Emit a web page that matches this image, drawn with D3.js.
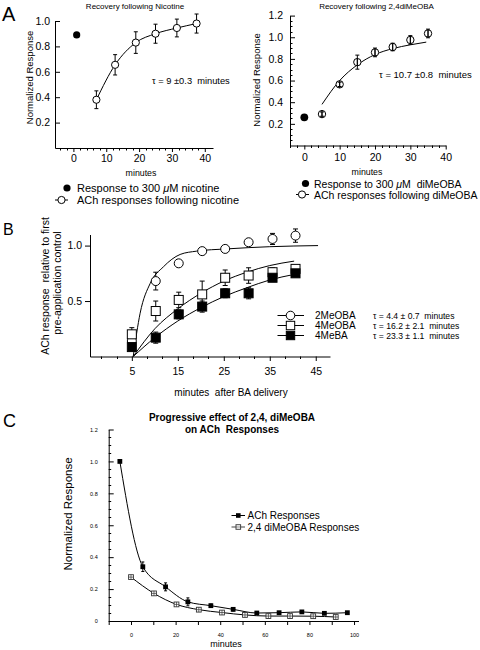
<!DOCTYPE html>
<html><head><meta charset="utf-8">
<script src="https://cdn.jsdelivr.net/npm/d3@7"></script>
<style>
body{margin:0;background:#fff}
svg{display:block;font-family:"Liberation Sans",Arial,Helvetica,sans-serif}
text{white-space:pre}
</style>
</head><body>
<svg id="c" width="480" height="650"></svg>
<script>
// ---------- Panel A (left): recovery following nicotine ----------
const nicTimes  = [7, 12.7, 19, 25, 31.5, 37.5];
const nicValues = [0.38, 0.655, 0.83, 0.90, 0.945, 0.98];
const nicErrors = [0.07, 0.08, 0.085, 0.075, 0.07, 0.075];
const nicPulseTimes  = [1];
const nicPulseValues = [0.89];
const a1YTicks = [0.2, 0.4, 0.6, 0.8, 1.0];
const a1XTicks = [0, 10, 20, 30, 40];

// ---------- Panel A (right): recovery following 2,4diMeOBA ----------
const dmTimes  = [5, 10, 15, 20, 25, 30, 35];
const dmValues = [0.29, 0.565, 0.77, 0.86, 0.91, 0.975, 1.035];
const dmErrors = [0.02, 0.02, 0.065, 0.04, 0.035, 0.04, 0.04];
const dmPulseTimes  = [0];
const dmPulseValues = [0.26];
const dmFitTimes  = [5, 10, 15, 20, 25, 30, 34.5];
const dmFitValues = [0.38, 0.60, 0.745, 0.84, 0.895, 0.93, 0.955];
const a2YTicks = [0.2, 0.4, 0.6, 0.8, 1.0, 1.2];
const a2XTicks = [0, 10, 20, 30, 40];

// ---------- Panel B ----------
const bTimes = [5, 10.2, 15.2, 20.3, 25.3, 30.4, 35.6, 40.6];
const b2MeOBAValues = [0.14, 0.68, 0.84, 0.95, 0.97, 1.03, 1.06, 1.09];
const b2MeOBAErrors = [0.03, 0.08, 0.02, 0.01, 0.01, 0.01, 0.05, 0.06];
const b4MeOBAValues = [0.20, 0.41, 0.51, 0.56, 0.71, 0.73, 0.76, 0.79];
const b4MeOBAErrors = [0.06, 0.09, 0.07, 0.12, 0.07, 0.07, 0.04, 0.03];
const b4MeBAValues  = [0.085, 0.17, 0.38, 0.45, 0.57, 0.57, 0.71, 0.75];
const b4MeBAErrors  = [0.03, 0.05, 0.04, 0.05, 0.04, 0.05, 0.03, 0.03];
const bFit2Times  = [5.3, 6.8, 9, 11.9, 15.5, 19.1, 25.6, 35, 45.5];
const bFit2Values = [0, 0.39, 0.66, 0.81, 0.92, 0.95, 0.97, 0.99, 1.0];
const bFitTimes   = [5.3, 10, 15, 20, 25, 30, 35, 40.3];
const bFit4MeOBAValues = [0, 0.25, 0.43, 0.57, 0.68, 0.76, 0.82, 0.86];
const bFit4MeBAValues  = [0, 0.17, 0.32, 0.44, 0.54, 0.62, 0.69, 0.74];
const bSeriesNames = ["2MeOBA", "4MeOBA", "4MeBA"];
const bTauLabels = ["τ = 4.4 ± 0.7  minutes", "τ = 16.2 ± 2.1  minutes", "τ = 23.3 ± 1.1  minutes"];
const bYTicks = [0.5, 1.0];
const bXTicks = [5, 15, 25, 35, 45];

// ---------- Panel C ----------
const cAchTimes  = [-5, 5.3, 15.5, 25.5, 35.8, 45.8, 56.4, 66.4, 76.6, 86.7, 97];
const cAchValues = [1.0, 0.34, 0.214, 0.12, 0.096, 0.073, 0.05, 0.052, 0.057, 0.048, 0.052];
const cAchErrors = [0, 0.03, 0.025, 0.025, 0.01, 0.01, 0.006, 0.006, 0.006, 0.006, 0.006];
const cDmTimes  = [0, 10.3, 20.4, 30.4, 40.8, 51.1, 61.6, 71.3, 81.7, 91.8];
const cDmValues = [0.275, 0.173, 0.104, 0.071, 0.053, 0.038, 0.031, 0.031, 0.03, 0.025];
const cSeriesNames = ["ACh Responses", "2,4 diMeOBA Responses"];
const cYTicks = [0, 0.2, 0.4, 0.6, 0.8, 1.0, 1.2];
const cXTicks = [-10, 0, 10, 20, 30, 40, 50, 60, 70, 80, 90, 100];
const cXLabels = [0, 20, 40, 60, 80, 100];

// =====================================================================
const svg = d3.select("#c");
const zip = (a, b) => a.map((v, i) => [v, b[i]]);

function styleAxis(g, size) {
  g.attr("font-family", null).attr("font-size", size);
  g.selectAll("path,line").attr("stroke", "#000").attr("stroke-width", 1);
  g.selectAll("text").attr("fill", "#000");
}
function minorTicks(g, scale, values, orient, pos, len) {
  g.selectAll(null).data(values).join("line")
    .attr("stroke", "#000").attr("stroke-width", 1)
    .each(function (d) {
      const s = d3.select(this), p = Math.round(scale(d)) + 0.5;
      if (orient === "x") s.attr("x1", p).attr("x2", p).attr("y1", pos).attr("y2", pos + len);
      else s.attr("y1", p).attr("y2", p).attr("x1", pos).attr("x2", pos + len);
    });
}
function errorBars(g, xs, ys, es, x, y, cap) {
  g.selectAll(null).data(xs.map((t, i) => [t, ys[i], es[i]]).filter(d => d[2] > 0)).join("g")
    .each(function (d) {
      const s = d3.select(this), cx = x(d[0]);
      s.append("line").attr("x1", cx).attr("x2", cx).attr("y1", y(d[1] - d[2])).attr("y2", y(d[1] + d[2])).attr("stroke", "#000");
      [d[1] - d[2], d[1] + d[2]].forEach(v => s.append("line").attr("x1", cx - cap).attr("x2", cx + cap).attr("y1", y(v)).attr("y2", y(v)).attr("stroke", "#000"));
    });
}
function text(g, x, y, s, size, opts = {}) {
  const t = g.append("text").attr("x", x).attr("y", y).attr("font-size", size).attr("xml:space", "preserve").text(s).attr("fill", "#000");
  if (opts.anchor) t.attr("text-anchor", opts.anchor);
  if (opts.weight) t.attr("font-weight", opts.weight);
  return t;
}
function vtext(g, x, y, s, size) {
  return g.append("text").attr("transform", `translate(${x},${y}) rotate(-90)`)
    .attr("text-anchor", "middle").attr("font-size", size).attr("fill", "#000").text(s);
}

// ---------------- Panel A left ----------------
{
  const g = svg.append("g");
  const x = d3.scaleLinear().domain([-5.6, 42.5]).range([55, 213]);
  const y = d3.scaleLinear().domain([0, 1]).range([148, 21]);
  const ya = g.append("g").attr("transform", "translate(55,0)")
    .call(d3.axisLeft(y).tickValues(a1YTicks).tickSize(-5).tickSizeOuter(0).tickPadding(5).tickFormat(d3.format(".1f")));
  styleAxis(ya, 10.5);
  const xa = g.append("g").attr("transform", "translate(0,148)")
    .call(d3.axisBottom(x).tickValues(a1XTicks).tickSize(4).tickSizeOuter(0).tickPadding(3));
  styleAxis(xa, 10.5);
  minorTicks(g, x, d3.range(-4, 42, 2).filter(v => v % 10 !== 0), "x", 148, 2.5);

  errorBars(g, nicTimes, nicValues, nicErrors, x, y, 2);
  g.append("path").datum(zip(nicTimes, nicValues))
    .attr("d", d3.line().x(d => x(d[0])).y(d => y(d[1])).curve(d3.curveMonotoneX))
    .attr("fill", "none").attr("stroke", "#000");
  g.selectAll(null).data(zip(nicTimes, nicValues)).join("circle")
    .attr("cx", d => x(d[0])).attr("cy", d => y(d[1])).attr("r", 3.6)
    .attr("fill", "#fff").attr("stroke", "#000");
  g.selectAll(null).data(zip(nicPulseTimes, nicPulseValues)).join("circle")
    .attr("cx", d => x(d[0])).attr("cy", d => y(d[1])).attr("r", 3.6).attr("fill", "#000");

  text(g, 135, 8.5, "Recovery following Nicotine", 8, { anchor: "middle" });
  vtext(g, 32.5, 77.5, "Normalized Response", 9.5);
  text(g, 141, 176, "minutes", 8.8, { anchor: "middle" });
  text(g, 152, 83.5, "τ = 9 ±0.3  minutes", 9.3);
  // legend
  g.append("circle").attr("cx", 67).attr("cy", 188).attr("r", 3.6).attr("fill", "#000");
  text(g, 77, 192, "Response to 300 ", 11).append("tspan").attr("font-style", "italic").text("μ")
    .select(function () { return this.parentNode; }).append("tspan").text("M nicotine");
  g.append("line").attr("x1", 55).attr("x2", 68).attr("y1", 200).attr("y2", 200).attr("stroke", "#000");
  g.append("circle").attr("cx", 61.5).attr("cy", 200).attr("r", 3.6).attr("fill", "#fff").attr("stroke", "#000");
  text(g, 77, 204, "ACh responses following nicotine", 11);
}

// ---------------- Panel A right ----------------
{
  const g = svg.append("g");
  const x = d3.scaleLinear().domain([-4.05, 40]).range([290, 445.7]);
  const y = d3.scaleLinear().domain([0, 1.2]).range([145.5, 15.6]);
  const ya = g.append("g").attr("transform", "translate(290,0)")
    .call(d3.axisLeft(y).tickValues(a2YTicks).tickSize(-5).tickSizeOuter(0).tickPadding(7).tickFormat(d3.format(".1f")));
  styleAxis(ya, 10.5);
  minorTicks(g, y, d3.range(0.05, 1.2, 0.05).filter(v => Math.abs(v * 5 - Math.round(v * 5)) > 0.01), "y", 290, 2.5);
  const xa = g.append("g").attr("transform", "translate(0,145.5)")
    .call(d3.axisBottom(x).tickValues(a2XTicks).tickSize(4).tickSizeOuter(0).tickPadding(4));
  styleAxis(xa, 10.5);
  minorTicks(g, x, d3.range(-4, 40, 2).filter(v => v % 10 !== 0), "x", 145.5, 2.5);

  g.append("path").datum(zip(dmFitTimes, dmFitValues))
    .attr("d", d3.line().x(d => x(d[0])).y(d => y(d[1])).curve(d3.curveMonotoneX))
    .attr("fill", "none").attr("stroke", "#000");
  g.selectAll(null).data(zip(dmTimes, dmValues)).join("circle")
    .attr("cx", d => x(d[0])).attr("cy", d => y(d[1])).attr("r", 3.7)
    .attr("fill", "#fff").attr("stroke", "#000");
  errorBars(g, dmTimes, dmValues, dmErrors, x, y, 2);
  dmTimes.forEach((t, i) => g.append("line").attr("x1", x(t)).attr("x2", x(t))
    .attr("y1", y(dmValues[i]) - 3.7).attr("y2", y(dmValues[i]) + 3.7).attr("stroke", "#000"));
  g.selectAll(null).data(zip(dmPulseTimes, dmPulseValues)).join("circle")
    .attr("cx", d => x(d[0])).attr("cy", d => y(d[1])).attr("r", 3.9).attr("fill", "#000");

  text(g, 376.5, 8.5, "Recovery following 2,4diMeOBA", 8, { anchor: "middle" });
  vtext(g, 260, 80, "Normalized Response", 9.5);
  text(g, 367, 175, "minutes", 8.8, { anchor: "middle" });
  text(g, 379, 78, "τ = 10.7 ±0.8  minutes", 9.5);
  g.append("circle").attr("cx", 305.5).attr("cy", 183.5).attr("r", 3.6).attr("fill", "#000");
  text(g, 314, 188, "Response to 300 ", 10.5).append("tspan").attr("font-style", "italic").text("μ")
    .select(function () { return this.parentNode; }).append("tspan").text("M  diMeOBA");
  g.append("line").attr("x1", 296).attr("x2", 309).attr("y1", 194.5).attr("y2", 194.5).attr("stroke", "#000");
  g.append("circle").attr("cx", 302).attr("cy", 194.5).attr("r", 3.6).attr("fill", "#fff").attr("stroke", "#000");
  text(g, 314, 198.5, "ACh responses following diMeOBA", 10.5);
}

// ---------------- Panel B ----------------
{
  const g = svg.append("g");
  const x = d3.scaleLinear().domain([-4.1, 48.1]).range([90, 330]);
  const y = d3.scaleLinear().domain([0, 1.1]).range([356.5, 234.5]);
  const ya = g.append("g").attr("transform", "translate(90,0)")
    .call(d3.axisLeft(y).tickValues(bYTicks).tickSize(5).tickSizeOuter(0).tickPadding(3).tickFormat(d3.format(".1f")));
  styleAxis(ya, 10.5);
  const xa = g.append("g").attr("transform", "translate(0,356.5)")
    .call(d3.axisBottom(x).tickValues(bXTicks).tickSize(4.5).tickSizeOuter(0).tickPadding(7));
  styleAxis(xa, 10.5);
  const minor = d3.range(-5, 49, 10 / 3).filter(v => v > -4.1 && v < 48 && !bXTicks.some(t => Math.abs(t - v) < 0.1));
  minorTicks(g, x, minor, "x", 356.5, 2.5);

  const line = d3.line().x(d => x(d[0])).y(d => y(d[1])).curve(d3.curveMonotoneX);
  [bFit2Values].forEach(v => g.append("path").datum(zip(bFit2Times, v)).attr("d", line).attr("fill", "none").attr("stroke", "#000"));
  [bFit4MeOBAValues, bFit4MeBAValues].forEach(v => g.append("path").datum(zip(bFitTimes, v)).attr("d", line).attr("fill", "none").attr("stroke", "#000"));

  errorBars(g, bTimes, b4MeBAValues, b4MeBAErrors, x, y, 2.5);
  errorBars(g, bTimes, b4MeOBAValues, b4MeOBAErrors, x, y, 2.5);
  errorBars(g, bTimes, b2MeOBAValues, b2MeOBAErrors, x, y, 2.5);
  const s = 9;
  g.selectAll(null).data(zip(bTimes, b2MeOBAValues)).join("circle")
    .attr("cx", d => x(d[0])).attr("cy", d => y(d[1])).attr("r", 4.5).attr("fill", "#fff").attr("stroke", "#000");
  g.selectAll(null).data(zip(bTimes, b4MeOBAValues)).join("rect")
    .attr("x", d => x(d[0]) - s / 2).attr("y", d => y(d[1]) - s / 2).attr("width", s).attr("height", s)
    .attr("fill", "#fff").attr("stroke", "#000");
  g.selectAll(null).data(zip(bTimes, b4MeBAValues)).join("rect")
    .attr("x", d => x(d[0]) - s / 2).attr("y", d => y(d[1]) - s / 2).attr("width", s).attr("height", s)
    .attr("fill", "#000").attr("stroke", "#000");

  // legend
  const rows = [315.5, 325.5, 335.5];
  rows.forEach((ry, i) => {
    g.append("line").attr("x1", 277.5).attr("x2", 304).attr("y1", ry).attr("y2", ry).attr("stroke", "#000");
    if (i === 0) g.append("circle").attr("cx", 290.5).attr("cy", ry).attr("r", 4.3).attr("fill", "#fff").attr("stroke", "#000");
    else g.append("rect").attr("x", 290.5 - 4.2).attr("y", ry - 4.2).attr("width", 8.4).attr("height", 8.4)
      .attr("fill", i === 1 ? "#fff" : "#000").attr("stroke", "#000");
    text(g, 315, ry + 3.6, bSeriesNames[i], 10);
    text(g, 373, ry + 3, bTauLabels[i], 8.6);
  });

  text(g, 3, 235, "B", 16);
  vtext(g, 48.5, 286, "ACh response  relative to first", 10.5).attr("xml:space", "preserve");
  vtext(g, 61, 283, "pre-application control", 10.5);
  text(g, 231, 396, "minutes  after BA delivery", 10, { anchor: "middle" });
}

// ---------------- Panel C ----------------
{
  const g = svg.append("g");
  const x = d3.scaleLinear().domain([-10, 102]).range([108.7, 358.5]);
  const y = d3.scaleLinear().domain([0, 1.2]).range([621, 429.5]);
  const ya = g.append("g").attr("transform", "translate(108.7,0)")
    .call(d3.axisLeft(y).tickValues(cYTicks).tickSize(-5).tickSizeOuter(0).tickPadding(11)
      .tickFormat(d => d === 0 ? "0" : d3.format(".1f")(d)));
  styleAxis(ya, 5.5);
  minorTicks(g, y, d3.range(0.05, 1.2, 0.05).filter(v => Math.abs(v * 5 - Math.round(v * 5)) > 0.01), "y", 108.7, 2.5);
  const xa = g.append("g").attr("transform", "translate(0,621)")
    .call(d3.axisBottom(x).tickValues(cXTicks).tickSize(4).tickSizeOuter(0).tickPadding(8)
      .tickFormat(d => cXLabels.includes(d) ? d : ""));
  styleAxis(xa, 5.5);

  const line = d3.line().x(d => x(d[0])).y(d => y(d[1])).curve(d3.curveMonotoneX);
  g.append("path").datum(zip(cAchTimes, cAchValues)).attr("d", line).attr("fill", "none").attr("stroke", "#000");
  g.append("path").datum(zip(cDmTimes, cDmValues)).attr("d", line).attr("fill", "none").attr("stroke", "#000");
  errorBars(g, cAchTimes, cAchValues, cAchErrors, x, y, 1.5);
  const s = 4.8;
  g.selectAll(null).data(zip(cDmTimes, cDmValues)).join("g").each(function (d) {
    const cx = x(d[0]), cy = y(d[1]), q = d3.select(this);
    q.append("rect").attr("x", cx - s / 2).attr("y", cy - s / 2).attr("width", s).attr("height", s).attr("fill", "#fff").attr("stroke", "#333").attr("stroke-width", 0.9);
    q.append("line").attr("x1", cx - s / 2).attr("x2", cx + s / 2).attr("y1", cy).attr("y2", cy).attr("stroke", "#333").attr("stroke-width", 0.7);
    q.append("line").attr("x1", cx).attr("x2", cx).attr("y1", cy - s / 2).attr("y2", cy + s / 2).attr("stroke", "#333").attr("stroke-width", 0.7);
  });
  g.selectAll(null).data(zip(cAchTimes, cAchValues)).join("rect")
    .attr("x", d => x(d[0]) - s / 2).attr("y", d => y(d[1]) - s / 2).attr("width", s).attr("height", s).attr("fill", "#000");

  // legend
  g.append("line").attr("x1", 231.5).attr("x2", 245).attr("y1", 515.5).attr("y2", 515.5).attr("stroke", "#000");
  g.append("rect").attr("x", 238.3 - 2.3).attr("y", 515.5 - 2.3).attr("width", 4.6).attr("height", 4.6).attr("fill", "#000");
  text(g, 247.5, 519, cSeriesNames[0], 10);
  g.append("line").attr("x1", 231.5).attr("x2", 245).attr("y1", 527).attr("y2", 527).attr("stroke", "#444");
  g.append("rect").attr("x", 238.3 - 2.3).attr("y", 527 - 2.3).attr("width", 4.6).attr("height", 4.6).attr("fill", "#fff").attr("stroke", "#444");
  g.append("line").attr("x1", 236).attr("x2", 240.6).attr("y1", 527).attr("y2", 527).attr("stroke", "#444").attr("stroke-width", 0.6);
  text(g, 247.5, 530.5, cSeriesNames[1], 10);

  text(g, 3, 427, "C", 18);
  text(g, 232, 420.5, "Progressive effect of 2,4, diMeOBA", 10, { anchor: "middle", weight: "bold" });
  text(g, 232, 433, "on ACh  Responses", 10, { anchor: "middle", weight: "bold" });
  vtext(g, 71.5, 514, "Normalized Response", 11.5);
  text(g, 226, 647, "minutes", 9, { anchor: "middle" });
}

// Panel letter A
text(svg, 2, 21, "A", 20);
</script>
</body></html>
